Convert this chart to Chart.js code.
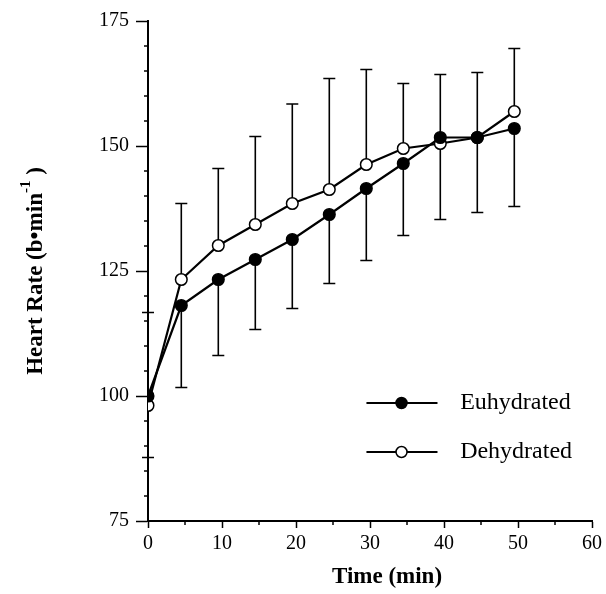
<!DOCTYPE html>
<html>
<head>
<meta charset="utf-8">
<script src="https://cdn.jsdelivr.net/npm/chart.js@4/dist/chart.umd.min.js"></script>
<style>
  body { margin: 0; background: #fff; }
  canvas { display: block; }
</style>
</head>
<body>
<canvas id="chart1" width="606" height="594"></canvas>
<script>
const canvas = document.getElementById("chart1");

// time points (min) and mean heart rate (b/min)
const times = [0, 4.5, 9.5, 14.5, 19.5, 24.5, 29.5, 34.5, 39.5, 44.5, 49.5];
const euhydrated = [100, 118.1, 123.3, 127.3, 131.3, 136.3, 141.5, 146.5, 151.7, 151.7, 153.5];
const dehydrated = [98.1, 123.3, 130.1, 134.3, 138.5, 141.3, 146.3, 149.5, 150.5, 151.7, 156.9];
// SD: euhydrated drawn downward, dehydrated drawn upward
const euhydratedSD = [12.3, 16.4, 15.2, 14.0, 13.8, 13.8, 14.4, 14.4, 16.4, 15.0, 15.6];
const dehydratedSD = [18.6, 15.2, 15.4, 17.6, 19.9, 22.2, 19.0, 13.0, 13.8, 13.0, 12.6];

const xTicks = [0, 10, 20, 30, 40, 50, 60];
const yTicks = [75, 100, 125, 150, 175];
const seriesNames = ["Euhydrated", "Dehydrated"];

const FONT = "'Liberation Serif', 'Times New Roman', serif";

function points(values) {
  return times.map((t, i) => ({ x: t, y: values[i] }));
}

const errorBars = {
  id: "errorBars",
  beforeDatasetsDraw(chart) {
    const { ctx } = chart;
    const x = chart.scales.x;
    const y = chart.scales.y;
    ctx.save();
    ctx.strokeStyle = "#000";
    ctx.lineWidth = 1.6;
    const draw = (means, sds, dir) => {
      means.forEach((m, i) => {
        const px = x.getPixelForValue(times[i]);
        const y0 = y.getPixelForValue(m);
        const y1 = y.getPixelForValue(m + dir * sds[i]);
        ctx.beginPath();
        ctx.moveTo(px, y0);
        ctx.lineTo(px, y1);
        ctx.moveTo(px - 6, y1);
        ctx.lineTo(px + 6, y1);
        ctx.stroke();
      });
    };
    draw(dehydrated, dehydratedSD, 1);
    draw(euhydrated, euhydratedSD, -1);
    ctx.restore();
  },
};

const decorations = {
  id: "decorations",
  afterDraw(chart) {
    const { ctx, chartArea } = chart;
    const x = chart.scales.x;
    const y = chart.scales.y;
    ctx.save();
    ctx.strokeStyle = "#000";
    ctx.fillStyle = "#000";
    ctx.lineWidth = 1.5;

    // minor ticks
    for (let v = 80; v < 175; v += 5) {
      if (v % 25 === 0) continue;
      const py = y.getPixelForValue(v);
      ctx.beginPath();
      ctx.moveTo(chartArea.left - 4, py);
      ctx.lineTo(chartArea.left + 1, py);
      ctx.stroke();
    }
    for (let v = 5; v < 60; v += 10) {
      const px = x.getPixelForValue(v);
      ctx.beginPath();
      ctx.moveTo(px, chartArea.bottom);
      ctx.lineTo(px, chartArea.bottom + 4);
      ctx.stroke();
    }

    // legend
    const styles = [
      { fill: "#000", yOff: 0.764 },
      { fill: "#fff", yOff: 0.862 },
    ];
    const w = chartArea.right - chartArea.left;
    const h = chartArea.bottom - chartArea.top;
    ctx.font = "24px " + FONT;
    ctx.textBaseline = "middle";
    seriesNames.forEach((name, i) => {
      const ly = chartArea.top + styles[i].yOff * h;
      const lx0 = chartArea.left + 0.492 * w;
      const lx1 = chartArea.left + 0.652 * w;
      const mx = chartArea.left + 0.571 * w;
      ctx.lineWidth = 2;
      ctx.beginPath();
      ctx.moveTo(lx0, ly);
      ctx.lineTo(lx1, ly);
      ctx.stroke();
      ctx.beginPath();
      ctx.arc(mx, ly, 5.5, 0, Math.PI * 2);
      ctx.fillStyle = styles[i].fill;
      ctx.fill();
      ctx.lineWidth = 1.5;
      ctx.stroke();
      ctx.fillStyle = "#000";
      ctx.textAlign = "left";
      ctx.fillText(name, chartArea.left + 0.703 * w, ly);
    });

    // x title
    ctx.font = "bold 23px " + FONT;
    ctx.textAlign = "center";
    ctx.textBaseline = "middle";
    ctx.fillText("Time (min)", (chartArea.left + chartArea.right) / 2 + 17, 577);

    // y title with superscript
    ctx.translate(36, (chartArea.top + chartArea.bottom) / 2);
    ctx.rotate(-Math.PI / 2);
    const main = "Heart Rate (b\u2022min";
    const sup = "-1";
    const tail = " )";
    ctx.font = "bold 23px " + FONT;
    const wMain = ctx.measureText(main).width;
    const wTail = ctx.measureText(tail).width;
    ctx.font = "bold 15px " + FONT;
    const wSup = ctx.measureText(sup).width;
    let cx = -(wMain + wSup + wTail) / 2;
    ctx.textAlign = "left";
    ctx.font = "bold 23px " + FONT;
    ctx.fillText(main, cx, 0);
    cx += wMain;
    ctx.font = "bold 15px " + FONT;
    ctx.fillText(sup, cx, -10);
    cx += wSup;
    ctx.font = "bold 23px " + FONT;
    ctx.fillText(tail, cx, 0);
    ctx.restore();
  },
};

new Chart(canvas, {
  type: "line",
  data: {
    datasets: [
      {
        label: seriesNames[0],
        data: points(euhydrated),
        borderColor: "#000",
        borderWidth: 2.2,
        pointBackgroundColor: "#000",
        pointBorderColor: "#000",
        pointBorderWidth: 1.5,
        pointRadius: 5.8,
        tension: 0,
        order: 0,
      },
      {
        label: seriesNames[1],
        data: points(dehydrated),
        borderColor: "#000",
        borderWidth: 2.2,
        pointBackgroundColor: "#fff",
        pointBorderColor: "#000",
        pointBorderWidth: 1.5,
        pointRadius: 5.8,
        tension: 0,
        order: 1,
      },
    ],
  },
  options: {
    responsive: false,
    animation: false,
    layout: { padding: { top: 21, right: 13, left: 0, bottom: 0 } },
    plugins: {
      legend: { display: false },
      tooltip: { enabled: false },
    },
    scales: {
      x: {
        type: "linear",
        min: 0,
        max: 60,
        afterBuildTicks: (scale) => {
          scale.ticks = xTicks.map((v) => ({ value: v }));
        },
        afterFit: (scale) => {
          scale.height = 73;
        },
        ticks: { color: "#000", font: { family: FONT, size: 20 }, padding: 4, maxRotation: 0 },
        grid: { display: true, drawOnChartArea: false, tickLength: 7, color: "#000", tickWidth: 1.5 },
        border: { display: true, color: "#000", width: 2 },
      },
      y: {
        type: "linear",
        min: 75,
        max: 175,
        afterBuildTicks: (scale) => {
          scale.ticks = yTicks.map((v) => ({ value: v }));
        },
        afterFit: (scale) => {
          scale.width = 148;
        },
        ticks: { color: "#000", font: { family: FONT, size: 20 }, padding: 7 },
        grid: { display: true, drawOnChartArea: false, tickLength: 12, color: "#000", tickWidth: 1.5 },
        border: { display: true, color: "#000", width: 2 },
      },
    },
  },
  plugins: [errorBars, decorations],
});
</script>
</body>
</html>
